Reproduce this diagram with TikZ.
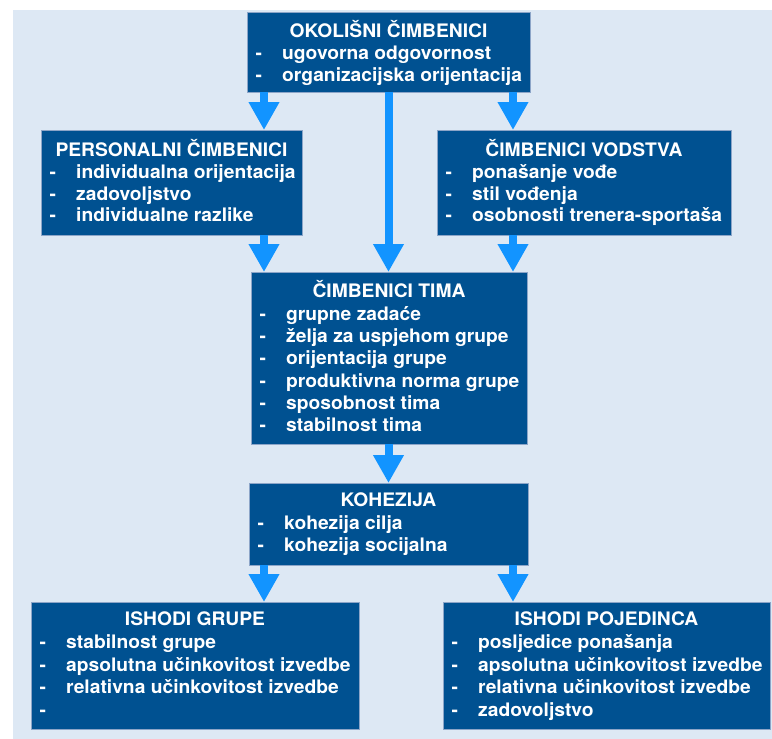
\documentclass[tikz,border=0pt]{standalone}
\usepackage{fontspec}
\setmainfont{TeX Gyre Heros}[FakeStretch=1.035]
\usetikzlibrary{arrows.meta}
\definecolor{bgc}{RGB}{221,232,244}
\definecolor{boxc}{RGB}{0,81,145}
\definecolor{boxline}{RGB}{140,165,200}
\definecolor{arrowc}{RGB}{18,148,255}
\tikzset{
  box/.style={rectangle, fill=boxc, draw=boxline, line width=0.8pt, inner sep=0pt, outer sep=0pt},
  ttl/.style={anchor=base, inner sep=0pt, text=white, font=\fontsize{18.6}{22}\selectfont\bfseries},
  itm/.style={anchor=base west, inner sep=0pt, text=white, font=\fontsize{18.6}{22}\selectfont\bfseries},
  arr/.style={draw=arrowc, line width=8pt, -{Triangle[width=29pt,length=28pt]}}
}
% #1 prefix, #2 box left x, #3 first baseline, #4 spacing, #5 items
\newcommand\boxitems[5]{%
  \foreach \t [count=\i] in {#5} {
    \node[itm] (#1d\i) at ({#2+8.5},{#3+#4*(\i-1)}) {-};
    \node[itm] (#1i\i) at ({#2+35},{#3+#4*(\i-1)}) {\t};
  }%
}
\begin{document}
\begin{tikzpicture}[x=1pt,y=-1pt]
\useasboundingbox (0,0) rectangle (772,739);
\fill[bgc] (13,10) rectangle (772,739);

% boxes
\node[box, minimum width=283pt, minimum height=80pt] (ok) at (388.5,52) {};
\node[box, minimum width=261pt, minimum height=105pt] (pers) at (171.5,182.5) {};
\node[box, minimum width=294pt, minimum height=105pt] (vod) at (584,182.5) {};
\node[box, minimum width=276pt, minimum height=172pt] (tima) at (389,358) {};
\node[box, minimum width=279pt, minimum height=82pt] (koh) at (388.5,524) {};
\node[box, minimum width=328pt, minimum height=127pt] (grp) at (195,665.5) {};
\node[box, minimum width=327pt, minimum height=127pt] (poj) at (606.5,665.5) {};

% texts
\node[ttl] (okt) at (388.5,37.7) {OKOLIŠNI ČIMBENICI};
\boxitems{ok}{247}{59.3}{21.7}{ugovorna odgovornost, organizacijska orijentacija}

\node[ttl] (perst) at (171.5,156.7) {PERSONALNI ČIMBENICI};
\boxitems{pers}{41}{178.3}{21.7}{individualna orijentacija, zadovoljstvo, individualne razlike}

\node[ttl] (vodt) at (584,156.7) {ČIMBENICI VODSTVA};
\boxitems{vod}{437}{178.3}{21.7}{ponašanje vođe, stil vođenja, osobnosti trenera-sportaša}

\node[ttl] (timat) at (389,297.3) {ČIMBENICI TIMA};
\boxitems{tima}{251}{320}{22.35}{grupne zadaće, želja za uspjehom grupe, orijentacija grupe, produktivna norma grupe, sposobnost tima, stabilnost tima}

\node[ttl] (koht) at (388.5,506) {KOHEZIJA};
\boxitems{koh}{249}{529.5}{22.3}{kohezija cilja, kohezija socijalna}

\node[ttl] (grpt) at (195,625.3) {ISHODI GRUPE};
\boxitems{grp}{31}{648.7}{22.6}{stabilnost grupe, apsolutna učinkovitost izvedbe, relativna učinkovitost izvedbe}
\node[itm] (grpd4) at (39.5,716.5) {-};

\node[ttl] (pojt) at (606.5,625.3) {ISHODI POJEDINCA};
\boxitems{poj}{443}{648.7}{22.6}{posljedice ponašanja, apsolutna učinkovitost izvedbe, relativna učinkovitost izvedbe, zadovoljstvo}

% arrow columns
\coordinate (cL) at (264,0);
\coordinate (cM) at (388.5,0);
\coordinate (cR) at (513,0);

\draw[arr] (cL |- ok.south) -- (cL |- pers.north);
\draw[arr] (cR |- ok.south) -- (cR |- vod.north);
\draw[arr] (cM |- ok.south) -- (cM |- tima.north);
\draw[arr] (cL |- pers.south) -- (cL |- tima.north);
\draw[arr] (cR |- vod.south) -- (cR |- tima.north);
\draw[arr] (cM |- tima.south) -- (cM |- koh.north);
\draw[arr] (cL |- koh.south) -- (cL |- grp.north);
\draw[arr] (cR |- koh.south) -- (cR |- poj.north);
\end{tikzpicture}
\end{document}
